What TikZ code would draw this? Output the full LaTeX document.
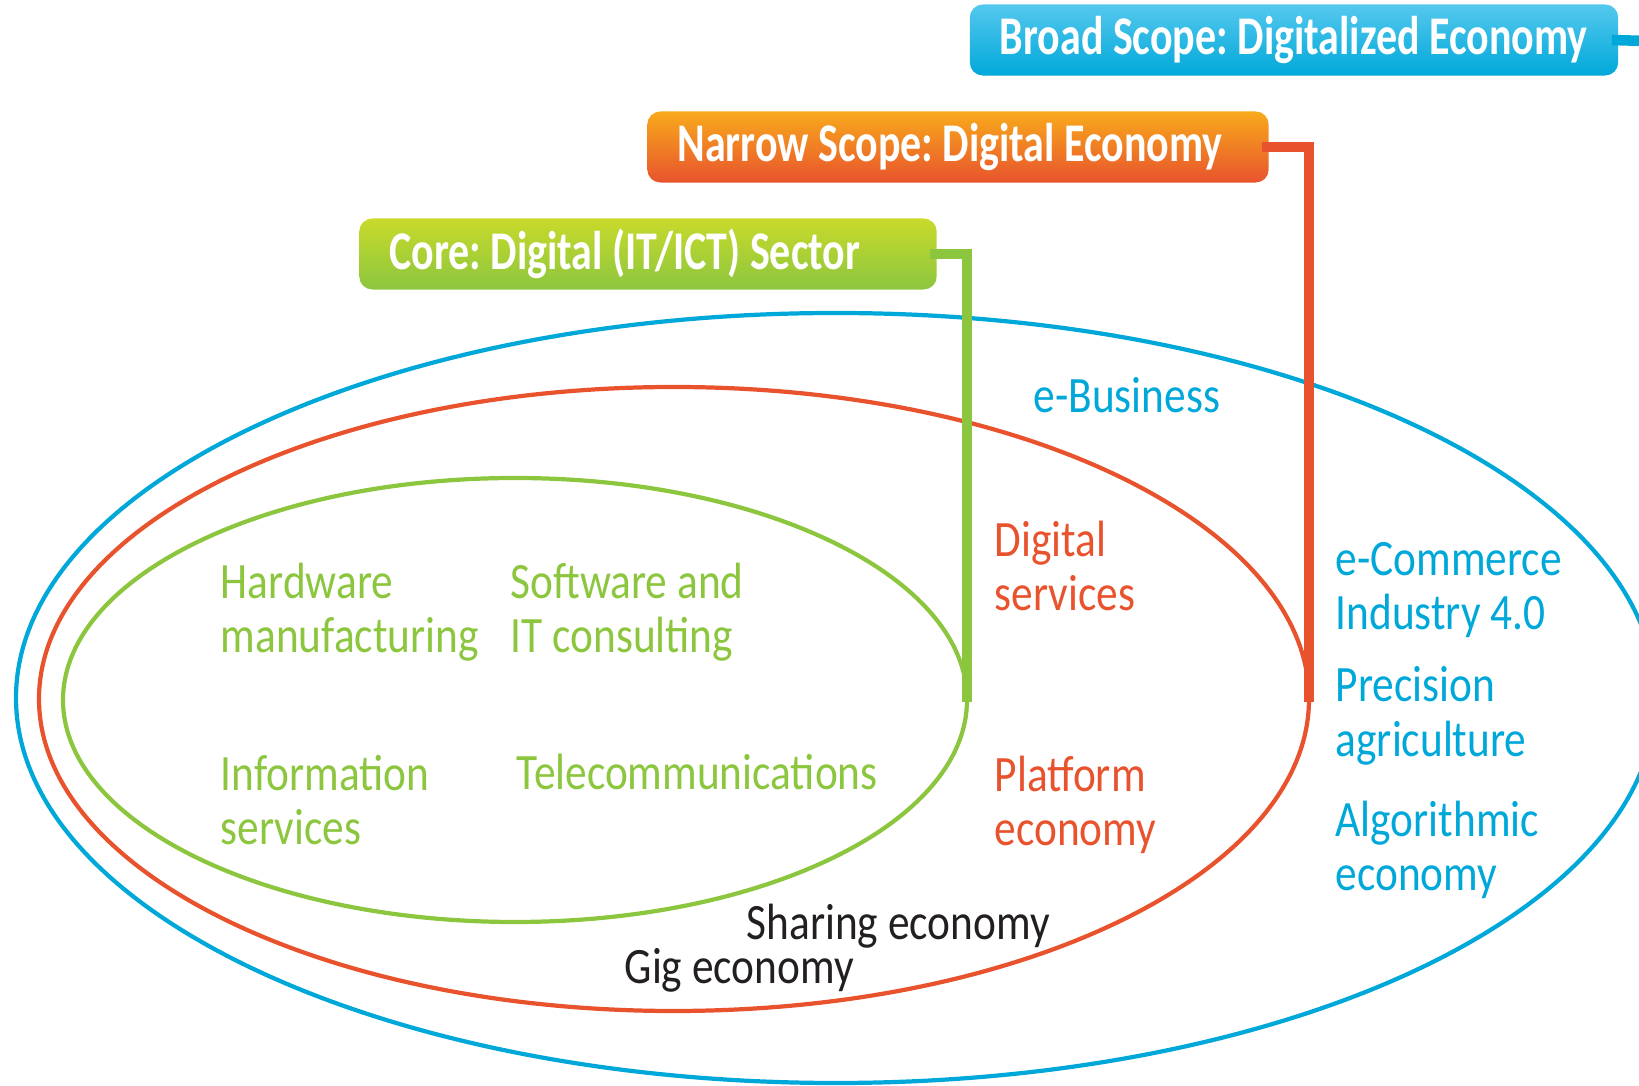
\documentclass[tikz,border=0pt]{standalone}
\usepackage{fontspec}
\setmainfont{Carlito}
\newfontfamily\bannerfont[FakeStretch=0.77]{Carlito}
\newfontfamily\itemfont[FakeStretch=0.85]{Carlito}
\frenchspacing
\newcommand\plainspace{\spaceskip=0pt\relax}

\definecolor{scopeblue}{HTML}{00A8D9}
\definecolor{scopebluetop}{HTML}{55C8EE}
\definecolor{scopered}{HTML}{E8532D}
\definecolor{scopeorangetop}{HTML}{F8AA1C}
\definecolor{scopegreen}{HTML}{8CC63F}
\definecolor{scopegreentop}{HTML}{C8DA2B}
\definecolor{scopedark}{HTML}{231F20}

\begin{document}
\begin{tikzpicture}[x=0.01cm, y=-0.01cm,
    bannerbox/.style={rounded corners=0.13cm, minimum height=0.71cm, inner xsep=0.3cm, inner ysep=0pt,
        text=white, font=\bannerfont\bfseries\fontsize{15.5}{16}\selectfont},
    ringline/.style={line width=1.2pt},
    linkline/.style={line width=3pt},
    itemtext/.style={inner sep=0pt, anchor=west, align=left, font=\itemfont\fontsize{14.5}{15.5}\selectfont,
        execute at begin node=\plainspace}]
    \useasboundingbox (0,0) rectangle (1639,1086);

    % scope rings
    \draw[ringline, scopeblue] (836,698) ellipse [x radius=820, y radius=385];
    \draw[ringline, scopered] (674,699) ellipse [x radius=635, y radius=312];
    \draw[ringline, scopegreen] (515,700) ellipse [x radius=452, y radius=222];

    % ends of the links
    \coordinate (broadend) at (1680,42);
    \coordinate (narrowend) at (1309,702);
    \coordinate (coreend) at (967,702);

    % banners
    \node[bannerbox, top color=scopebluetop, bottom color=scopeblue] (broad) at (1294,40)
        {\makebox[5.88cm][l]{Broad Scope: Digitalized Economy}};
    \node[bannerbox, top color=scopeorangetop, bottom color=scopered] (narrow) at (958,147)
        {\makebox[5.61cm][l]{Narrow Scope: Digital Economy}};
    \node[bannerbox, top color=scopegreentop, bottom color=scopegreen] (core) at (648,254)
        {\makebox[5.17cm][l]{Core: Digital (IT/ICT) Sector}};

    % links
    \draw[linkline, scopeblue] ([xshift=-2pt]broad.east) -- (broadend);
    \draw[linkline, scopered] ([xshift=-2pt]narrow.east) -| (narrowend);
    \draw[linkline, scopegreen] ([xshift=-2pt]core.east) -| (coreend);

    % core sector
    \node[itemtext, text=scopegreen] (hardware) at (220,612) {Hardware\\manufacturing};
    \node[itemtext, text=scopegreen] (software) at (510,612) {Software and\\IT consulting};
    \node[itemtext, text=scopegreen] (infosvc) at (220,800) {Information\\services};
    \node[itemtext, text=scopegreen] (telecom) at (516,772) {Telecommunications};

    % narrow scope
    \node[itemtext, text=scopered] (digsvc) at (994,566) {Digital\\services};
    \node[itemtext, text=scopered] (platform) at (994,805) {Platform\\economy};
    \node[itemtext, text=scopedark] (sharing) at (746,926) {Sharing economy};
    \node[itemtext, text=scopedark] (gig) at (624,970) {Gig economy};

    % broad scope
    \node[itemtext, text=scopeblue] (ebiz) at (1033,395) {e-Business};
    \node[itemtext, text=scopeblue] (ecommerce) at (1335,590) {e-Commerce\\Industry 4.0};
    \node[itemtext, text=scopeblue] (precision) at (1335,716) {Precision\\agriculture};
    \node[itemtext, text=scopeblue] (algo) at (1335,850) {Algorithmic\\economy};
\end{tikzpicture}
\end{document}
